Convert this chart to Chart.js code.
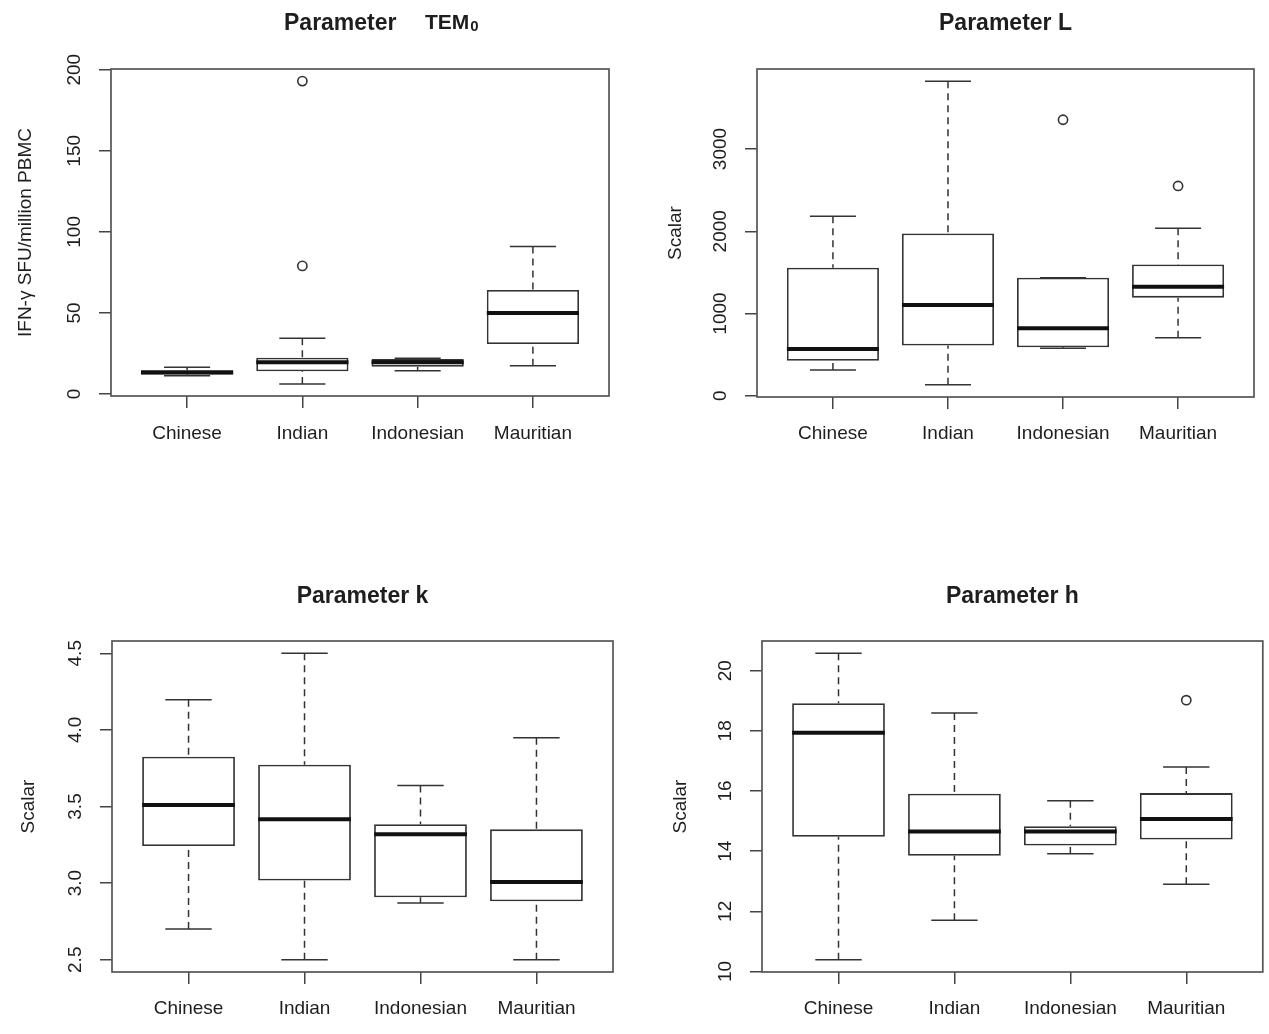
<!DOCTYPE html>
<html lang="en">
  <head>
    <meta charset="UTF-8" />
    <meta name="viewport" content="width=device-width, initial-scale=1.0" />
    <script src="https://cdn.jsdelivr.net/npm/chart.js@4.4.1/dist/chart.umd.min.js"></script>
    <title>Parameter boxplots</title>
    <style>
      html,
      body {
        margin: 0;
        padding: 0;
        background-color: #fff;
      }
      #wrap {
        position: relative;
        width: 1269px;
        height: 1034px;
      }
      canvas {
        position: absolute;
        display: block;
      }
    </style>
  </head>
  <body>
    <div id="wrap">
      <canvas id="c1" width="634" height="517" style="left:0;top:0"></canvas>
      <canvas id="c2" width="635" height="517" style="left:634px;top:0"></canvas>
      <canvas id="c3" width="634" height="517" style="left:0;top:517px"></canvas>
      <canvas id="c4" width="635" height="517" style="left:634px;top:517px"></canvas>
    </div>
    <script>
      const categories = ["Chinese", "Indian", "Indonesian", "Mauritian"];

      // Parameter TEM0 (IFN-gamma SFU / million PBMC)
      const tem0Low = [11.2, 6.2, 14.3, 17.4];
      const tem0Q1 = [12.0, 14.0, 16.8, 30.8];
      const tem0Median = [13.3, 19.5, 19.5, 50.0];
      const tem0Q3 = [14.6, 22.3, 21.5, 64.2];
      const tem0High = [16.5, 34.3, 22.0, 91.0];
      const tem0OutCat = ["Indian", "Indian"];
      const tem0OutVal = [193, 79];
      const tem0Ticks = [0, 50, 100, 150, 200];

      // Parameter L
      const lLow = [315, 133, 578, 707];
      const lQ1 = [425, 610, 590, 1193];
      const lMedian = [570, 1104, 821, 1326];
      const lQ3 = [1556, 1973, 1435, 1597];
      const lHigh = [2183, 3825, 1435, 2038];
      const lOutCat = ["Indonesian", "Mauritian"];
      const lOutVal = [3356, 2551];
      const lTicks = [0, 1000, 2000, 3000];

      // Parameter k
      const kLow = [2.70, 2.50, 2.871, 2.50];
      const kQ1 = [3.242, 3.017, 2.908, 2.882];
      const kMedian = [3.51, 3.417, 3.319, 3.008];
      const kQ3 = [3.825, 3.772, 3.384, 3.351];
      const kHigh = [4.196, 4.50, 3.637, 3.949];
      const kOutCat = [];
      const kOutVal = [];
      const kTicks = [2.5, 3.0, 3.5, 4.0, 4.5];

      // Parameter h
      const hLow = [10.39, 11.70, 13.91, 12.90];
      const hQ1 = [14.48, 13.85, 14.19, 14.39];
      const hMedian = [17.94, 14.65, 14.65, 15.07];
      const hQ3 = [18.92, 15.91, 14.83, 15.93];
      const hHigh = [20.58, 18.59, 15.68, 16.80];
      const hOutCat = ["Mauritian"];
      const hOutVal = [19.02];
      const hTicks = [10, 12, 14, 16, 18, 20];

      const FONT = "'Liberation Sans', Arial, sans-serif";
      const INK = "#1e1e1e";
      const LINE = "#333";

      Chart.defaults.font.family = FONT;
      Chart.defaults.color = INK;

      const panels = [
        {
          canvas: "c1", title: "Parameter", yTitle: "IFN-\u03b3 SFU/million PBMC",
          low: tem0Low, q1: tem0Q1, med: tem0Median, q3: tem0Q3, high: tem0High,
          outCat: tem0OutCat, outVal: tem0OutVal, ticks: tem0Ticks, digits: 0,
          pad: { left: 14, top: 69, right: 25, bottom: 0 }, axisW: 97, axisH: 121, labelPad: 14, titleY: 30,
        },
        {
          canvas: "c2", title: "Parameter L", yTitle: "Scalar",
          low: lLow, q1: lQ1, med: lMedian, q3: lQ3, high: lHigh,
          outCat: lOutCat, outVal: lOutVal, ticks: lTicks, digits: 0,
          pad: { left: 30, top: 69, right: 15, bottom: 0 }, axisW: 93, axisH: 120, labelPad: 13, titleY: 30,
        },
        {
          canvas: "c3", title: "Parameter k", yTitle: "Scalar",
          low: kLow, q1: kQ1, med: kMedian, q3: kQ3, high: kHigh,
          outCat: kOutCat, outVal: kOutVal, ticks: kTicks, digits: 1,
          pad: { left: 17, top: 124, right: 21, bottom: 0 }, axisW: 95, axisH: 62, labelPad: 13, titleY: 86,
        },
        {
          canvas: "c4", title: "Parameter h", yTitle: "Scalar",
          low: hLow, q1: hQ1, med: hMedian, q3: hQ3, high: hHigh,
          outCat: hOutCat, outVal: hOutVal, ticks: hTicks, digits: 0,
          pad: { left: 35, top: 124, right: 5, bottom: 0 }, axisW: 93, axisH: 62, labelPad: 13, titleY: 86,
        },
      ];

      function line(ctx, x1, y1, x2, y2) {
        ctx.beginPath();
        ctx.moveTo(x1, y1);
        ctx.lineTo(x2, y2);
        ctx.stroke();
      }

      // whiskers, medians, frame, rotated tick labels and the title
      function boxParts(p) {
        return {
          id: "boxParts",
          beforeDatasetsDraw(chart) {
            const { ctx, scales: { x, y } } = chart;
            ctx.save();
            ctx.strokeStyle = LINE;
            ctx.lineWidth = 1.5;
            categories.forEach((c, i) => {
              const cx = x.getPixelForValue(i + 1);
              const capL = x.getPixelForValue(i + 0.8);
              const capR = x.getPixelForValue(i + 1.2);
              ctx.setLineDash([7, 5]);
              line(ctx, cx, y.getPixelForValue(p.high[i]), cx, y.getPixelForValue(p.q3[i]));
              line(ctx, cx, y.getPixelForValue(p.low[i]), cx, y.getPixelForValue(p.q1[i]));
              ctx.setLineDash([]);
              line(ctx, capL, y.getPixelForValue(p.high[i]), capR, y.getPixelForValue(p.high[i]));
              line(ctx, capL, y.getPixelForValue(p.low[i]), capR, y.getPixelForValue(p.low[i]));
            });
            ctx.restore();
          },
          afterDatasetsDraw(chart) {
            const { ctx, scales: { x, y } } = chart;
            ctx.save();
            ctx.strokeStyle = "#111";
            ctx.lineWidth = 4;
            categories.forEach((c, i) => {
              const py = y.getPixelForValue(p.med[i]);
              line(ctx, x.getPixelForValue(i + 0.6), py, x.getPixelForValue(i + 1.4), py);
            });
            ctx.restore();
          },
          afterDraw(chart) {
            const { ctx, chartArea: a, scales: { y } } = chart;
            ctx.save();
            ctx.strokeStyle = "#555";
            ctx.lineWidth = 1.7;
            ctx.strokeRect(a.left, a.top, a.right - a.left, a.bottom - a.top);

            ctx.fillStyle = INK;
            ctx.font = "19px " + FONT;
            ctx.textAlign = "center";
            ctx.textBaseline = "middle";
            y.ticks.forEach((t) => {
              ctx.save();
              ctx.translate(a.left - 36, y.getPixelForValue(t.value));
              ctx.rotate(-Math.PI / 2);
              ctx.fillText(t.value.toFixed(p.digits), 0, 0);
              ctx.restore();
            });

            ctx.textBaseline = "alphabetic";
            ctx.font = "bold 23px " + FONT;
            if (p.canvas === "c1") {
              ctx.textAlign = "left";
              ctx.fillText(p.title, 284, p.titleY);
              ctx.font = "bold 21px " + FONT;
              ctx.fillText("TEM", 425, p.titleY - 1);
              const w = ctx.measureText("TEM").width;
              ctx.font = "bold 15px " + FONT;
              ctx.fillText("0", 425 + w + 1, p.titleY + 1);
            } else {
              ctx.textAlign = "center";
              ctx.fillText(p.title, (a.left + a.right) / 2, p.titleY);
            }
            ctx.restore();
          },
        };
      }

      panels.forEach((p) => {
        // R style range: whole data span plus 4% on both sides
        const all = p.low.concat(p.high, p.outVal);
        const lo = Math.min(...all);
        const hi = Math.max(...all);
        const ext = (hi - lo) * 0.04;
        const xExt = categories.length * 0.04;

        new Chart(document.getElementById(p.canvas), {
          type: "bar",
          data: {
            datasets: [
              {
                type: "bar",
                data: categories.map((c, i) => ({ x: i + 1, y: [p.q1[i], p.q3[i]] })),
                backgroundColor: "#fff",
                borderColor: LINE,
                borderWidth: 1.8,
                borderSkipped: false,
                barPercentage: 0.8,
                categoryPercentage: 1,
              },
              {
                type: "scatter",
                data: p.outCat.map((c, k) => ({ x: categories.indexOf(c) + 1, y: p.outVal[k] })),
                pointStyle: "circle",
                pointRadius: 4.6,
                borderWidth: 1.6,
                borderColor: LINE,
                backgroundColor: "rgba(0,0,0,0)",
              },
            ],
          },
          options: {
            responsive: false,
            animation: false,
            layout: { padding: p.pad },
            plugins: { legend: { display: false }, tooltip: { enabled: false } },
            scales: {
              x: {
                type: "linear",
                min: 0.5 - xExt,
                max: categories.length + 0.5 + xExt,
                bounds: "data",
                offset: false,
                afterBuildTicks: (s) => {
                  s.ticks = categories.map((c, i) => ({ value: i + 1 }));
                },
                afterFit: (s) => {
                  s.height = p.axisH;
                },
                ticks: {
                  callback: (v) => categories[v - 1],
                  font: { size: 19 },
                  color: INK,
                  padding: p.labelPad,
                  autoSkip: false,
                  maxRotation: 0,
                },
                grid: { offset: false, drawOnChartArea: false, tickLength: 12, color: "#444", lineWidth: 1.5 },
                border: { display: false },
              },
              y: {
                type: "linear",
                min: lo - ext,
                max: hi + ext,
                bounds: "data",
                afterBuildTicks: (s) => {
                  s.ticks = p.ticks.map((v) => ({ value: v }));
                },
                afterFit: (s) => {
                  s.width = p.axisW;
                },
                ticks: { display: false },
                grid: { drawOnChartArea: false, tickLength: 12, color: "#444", lineWidth: 1.5 },
                border: { display: false },
                title: { display: true, text: p.yTitle, font: { size: 19 }, color: INK, padding: 0 },
              },
            },
          },
          plugins: [boxParts(p)],
        });
      });
    </script>
  </body>
</html>
